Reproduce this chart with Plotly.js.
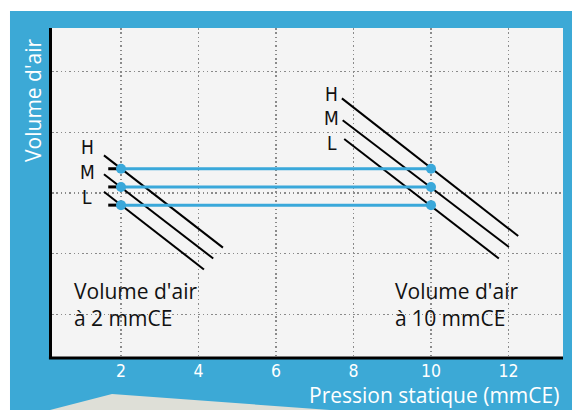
<!DOCTYPE html>
<html>
<head>
<meta charset="utf-8">
<script src="https://cdn.plot.ly/plotly-3.0.1.min.js"></script>
<style>html,body{margin:0;padding:0;background:#fff;}#chart{width:572px;height:410px;}</style>
</head>
<body>
<div id="chart"></div>
<script>
// ---- data ----
const levels = ['H', 'M', 'L'];
const pressurePoints = [2, 10];               // mmCE
const volumeAtPoints = [3.40, 3.10, 2.80];    // H, M, L air volume (arbitrary units)
const stubX = [1.67, 2];
const leftCurveX = [[1.56, 4.63], [1.56, 4.38], [1.56, 4.14]];
const leftCurveY = [[3.62, 2.10], [3.31, 1.92], [3.02, 1.74]];
const rightCurveX = [[7.70, 12.25], [7.72, 12.01], [7.76, 11.75]];
const rightCurveY = [[4.56, 2.29], [4.20, 2.11], [3.89, 1.92]];
const leftLabelX = 1.13;
const leftLabelY = [3.76, 3.34, 2.93];
const rightLabelX = 7.44;
const rightLabelY = [4.64, 4.23, 3.82];
const xTickVals = [2, 4, 6, 8, 10, 12];
const xTickText = ['2', '4', '6', '8', '10', '12'];
const yGridVals = [1, 2, 3, 4, 5];
const noteLeft = "Volume d'air<br>à 2 mmCE";
const noteRight = "Volume d'air<br>à 10 mmCE";
const xTitle = 'Pression statique (mmCE)';
const yTitle = "Volume d'air";

// ---- styles ----
const BLUE = '#3ca9d6';
const LINEBLUE = '#3aa8da';
const SANS = '"Open Sans", Lato, sans-serif';
const NARROW = '"Liberation Sans Narrow", "DejaVu Sans Condensed", sans-serif';

const traces = [];
levels.forEach((lv, i) => {
  traces.push({x: leftCurveX[i], y: leftCurveY[i], mode: 'lines', line: {color: '#000', width: 2}, hoverinfo: 'skip'});
  traces.push({x: rightCurveX[i], y: rightCurveY[i], mode: 'lines', line: {color: '#000', width: 2}, hoverinfo: 'skip'});
  traces.push({x: stubX, y: [volumeAtPoints[i], volumeAtPoints[i]], mode: 'lines', line: {color: '#000', width: 3}, hoverinfo: 'skip'});
});
levels.forEach((lv, i) => {
  traces.push({x: pressurePoints, y: [volumeAtPoints[i], volumeAtPoints[i]], mode: 'lines+markers',
    line: {color: LINEBLUE, width: 3}, marker: {color: LINEBLUE, size: 10}, name: lv});
});

const annotations = [];
levels.forEach((lv, i) => {
  annotations.push({x: leftLabelX, y: leftLabelY[i], xref: 'x', yref: 'y', text: lv, showarrow: false,
    font: {family: NARROW, size: 19, color: '#111'}});
  annotations.push({x: rightLabelX, y: rightLabelY[i], xref: 'x', yref: 'y', text: lv, showarrow: false,
    font: {family: NARROW, size: 19, color: '#111'}});
});
annotations.push({x: 0.735, y: 1.17, xref: 'x', yref: 'y', xanchor: 'left', yanchor: 'middle', align: 'left',
  text: noteLeft, showarrow: false, font: {family: SANS, size: 21, color: '#111'}});
annotations.push({x: 9.03, y: 1.17, xref: 'x', yref: 'y', xanchor: 'left', yanchor: 'middle', align: 'left',
  text: noteRight, showarrow: false, font: {family: SANS, size: 21, color: '#111'}});
annotations.push({x: 0.994, y: -0.1576, xref: 'paper', yref: 'paper', xanchor: 'right', yanchor: 'bottom',
  borderpad: 0, text: xTitle, showarrow: false, font: {family: SANS, size: 21, color: '#fff'}});
annotations.push({x: -0.0372, y: 0.782, xref: 'paper', yref: 'paper', xanchor: 'center', yanchor: 'middle',
  textangle: -90, text: yTitle, showarrow: false, font: {family: SANS, size: 21, color: '#fff'}});

const shapes = [
  {type: 'rect', xref: 'paper', yref: 'paper', x0: -0.11, x1: -0.0822, y0: -0.2, y1: 1.1, fillcolor: '#fff', line: {width: 0}, layer: 'above'},
  {type: 'rect', xref: 'paper', yref: 'paper', x0: -0.11, x1: 1.05, y0: 1.0515, y1: 1.1, fillcolor: '#fff', line: {width: 0}, layer: 'above'},
  {type: 'path', xref: 'paper', yref: 'paper', path: 'M -0.0039 -0.18 L -0.0039 -0.1576 L 0.1174 -0.1091 L 0.544 -0.1576 L 0.544 -0.18 Z',
    fillcolor: '#dedfd7', line: {width: 0}, layer: 'above'},
  // bottom axis line
  {type: 'line', xref: 'paper', yref: 'paper', x0: -0.006, x1: 1, y0: 0, y1: 0, line: {color: '#000', width: 3}, layer: 'above'}
];

const layout = {
  width: 572, height: 410,
  margin: {l: 52, r: 9, t: 28, b: 52},
  paper_bgcolor: BLUE,
  plot_bgcolor: '#f4f4f4',
  showlegend: false,
  xaxis: {range: [0.219, 13.406], tickvals: xTickVals, ticktext: xTickText, showgrid: true,
    gridcolor: '#8a8a8a', gridwidth: 1.5, griddash: '1.5px,2.8px', zeroline: false,
    showline: false, ticks: '',
    tickfont: {family: NARROW, size: 17.5, color: '#fff'}},
  yaxis: {range: [0.28, 5.72], tickvals: yGridVals, showticklabels: false, showgrid: true,
    gridcolor: '#8a8a8a', gridwidth: 1.5, griddash: '1.5px,2.8px', zeroline: false,
    showline: true, linecolor: '#000', linewidth: 3, ticks: ''},
  annotations: annotations,
  shapes: shapes
};

Plotly.newPlot('chart', traces, layout, {staticPlot: true, displayModeBar: false});
</script>
</body>
</html>
